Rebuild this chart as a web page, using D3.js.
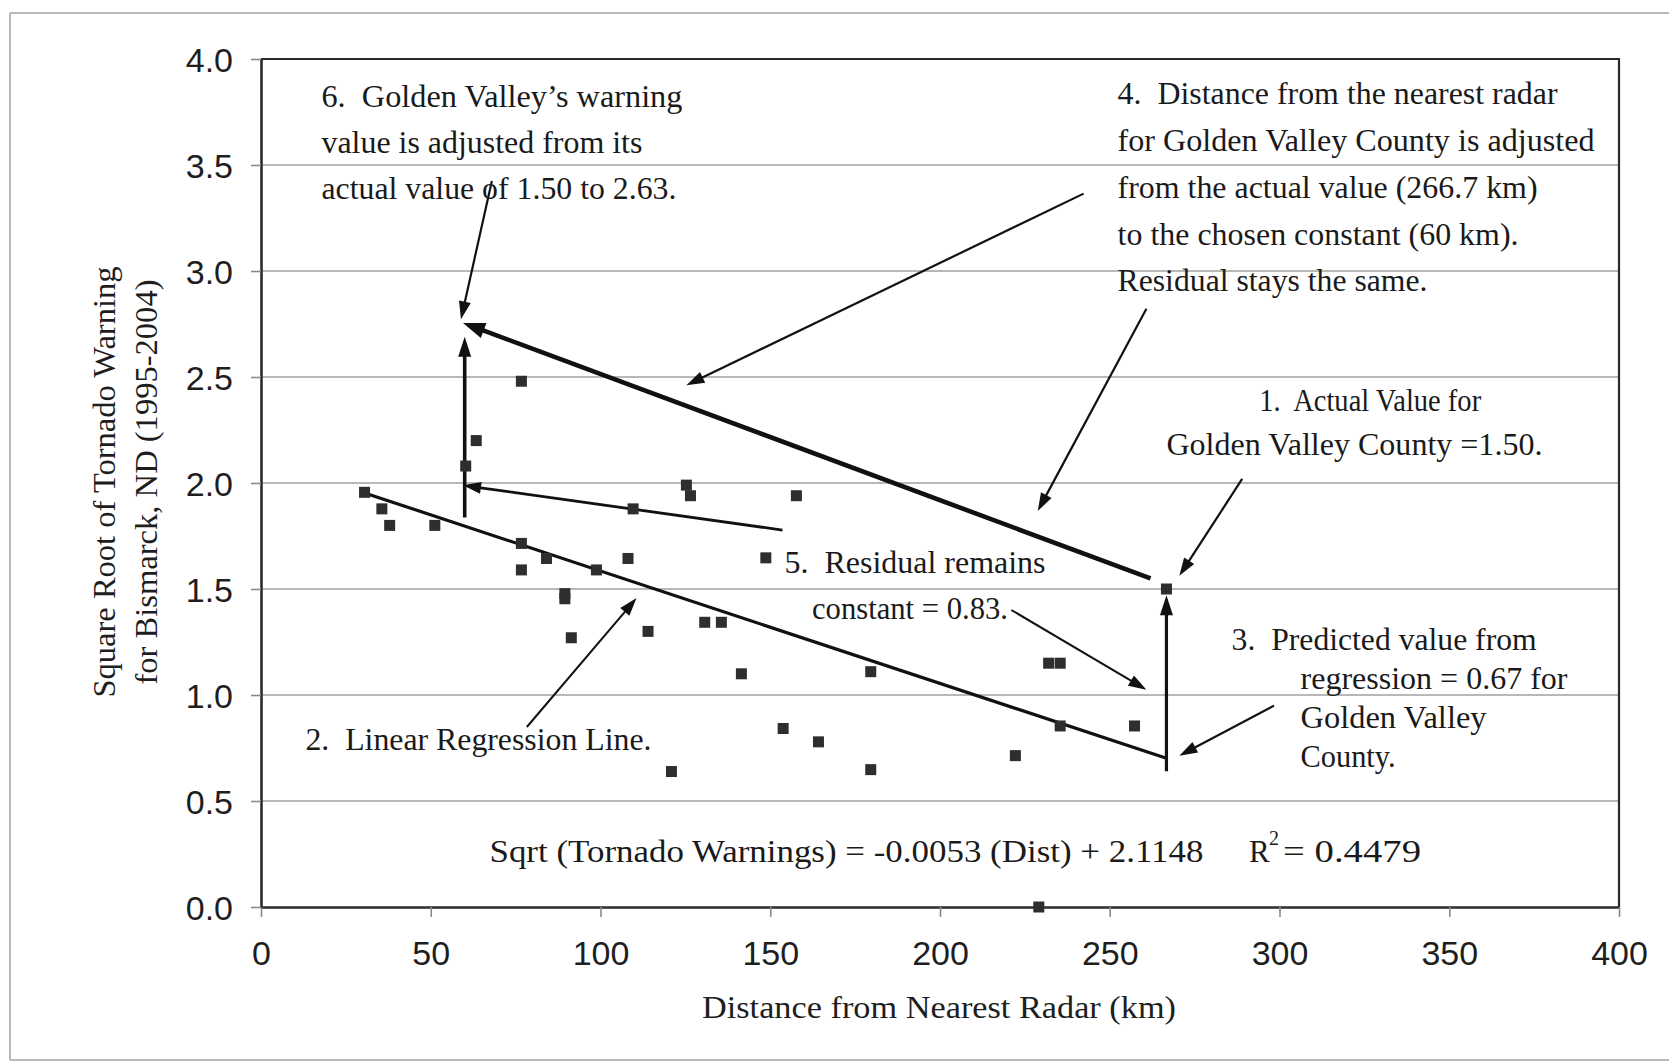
<!DOCTYPE html>
<html>
<head>
<meta charset="utf-8">
<script src="https://cdn.jsdelivr.net/npm/d3@7"></script>
<style>
  body { margin: 0; background: #fff; }
  svg { display: block; }
</style>
</head>
<body>
<svg id="chart" width="1669" height="1063"></svg>
<script>
// County observations: distance from nearest radar (km) and
// square root of tornado warnings issued by Bismarck, ND (1995-2004)
const distances = [30.5, 35.6, 37.9, 51.2, 60.3, 63.4, 76.7, 76.7, 76.7, 84.1,
                   89.5, 89.5, 91.4, 98.8, 108.1, 109.6, 114.0, 120.9, 125.3, 126.5,
                   130.7, 135.6, 141.5, 148.7, 153.8, 157.7, 164.2, 179.6, 179.6, 222.2,
                   229.1, 232.0, 235.4, 235.4, 257.3];
const sqrtWarnings = [1.956, 1.878, 1.80, 1.80, 2.08, 2.20, 2.48, 1.715, 1.59, 1.644,
                      1.478, 1.454, 1.27, 1.59, 1.644, 1.878, 1.30, 0.639, 1.99, 1.94,
                      1.343, 1.343, 1.10, 1.647, 0.842, 1.94, 0.779, 1.11, 0.648, 0.714,
                      0.0, 1.15, 1.15, 0.854, 0.854];

// Golden Valley County: actual and adjusted values
const goldenDist = 266.7;
const goldenValue = 1.50;
const adjustedDist = 60;
const adjustedValue = 2.63;
const predictedValue = 0.67;

// Fitted regression
const slope = -0.0053;
const intercept = 2.1148;
const rSquared = 0.4479;

// Axis ticks
const xTicks = [0, 50, 100, 150, 200, 250, 300, 350, 400];
const yTicks = [0.0, 0.5, 1.0, 1.5, 2.0, 2.5, 3.0, 3.5, 4.0];

const W = 1669, H = 1063;
const plot = { left: 261, right: 1619, top: 59, bottom: 907 };

const svg = d3.select("#chart");
svg.append("rect").attr("width", W).attr("height", H).attr("fill", "#fff");

// Outer frame around the figure
const frame = svg.append("g").attr("stroke", "#b8b8b8").attr("stroke-width", 2).attr("fill", "none");
frame.append("line").attr("x1", 10).attr("x2", W).attr("y1", 13).attr("y2", 13);
frame.append("line").attr("x1", 10).attr("x2", 10).attr("y1", 13).attr("y2", 1060);
frame.append("line").attr("x1", 10).attr("x2", W).attr("y1", 1060).attr("y2", 1060);

const x = d3.scaleLinear().domain([0, 400]).range([plot.left, plot.right]);
const y = d3.scaleLinear().domain([0, 4]).range([plot.bottom, plot.top]);

// Horizontal gridlines
svg.append("g")
  .selectAll("line").data(yTicks.filter(t => t > 0)).join("line")
  .attr("x1", plot.left).attr("x2", plot.right)
  .attr("y1", d => y(d)).attr("y2", d => y(d))
  .attr("stroke", "#a0a0a0").attr("stroke-width", 1.6);

// Plot border (top and right)
svg.append("path")
  .attr("d", `M${plot.left},${plot.top}H${plot.right}V${plot.bottom}`)
  .attr("fill", "none").attr("stroke", "#2b2b2b").attr("stroke-width", 2.2);

// Axes
const xAxis = d3.axisBottom(x).tickValues(xTicks).tickFormat(d3.format("d"))
  .tickSizeInner(10).tickSizeOuter(0).tickPadding(24);
const yAxis = d3.axisLeft(y).tickValues(yTicks).tickFormat(d3.format(".1f"))
  .tickSizeInner(10).tickSizeOuter(0).tickPadding(18);

const gx = svg.append("g").attr("transform", `translate(0,${plot.bottom})`).call(xAxis);
const gy = svg.append("g").attr("transform", `translate(${plot.left},0)`).call(yAxis);
[gx, gy].forEach(g => {
  g.select(".domain").attr("stroke", "#2b2b2b").attr("stroke-width", 2.6);
  g.selectAll(".tick line").attr("stroke", "#8a8a8a").attr("stroke-width", 1.6);
  g.selectAll(".tick text")
    .attr("font-family", "'Liberation Sans', Arial, sans-serif")
    .attr("font-size", 34).attr("fill", "#1e1e1e");
});
gy.selectAll(".tick text").attr("dy", "0.36em");

// Axis titles
const serif = "'Liberation Serif', 'Times New Roman', serif";
svg.append("text")
  .attr("x", 939).attr("y", 1007).attr("dominant-baseline", "central")
  .attr("text-anchor", "middle").attr("font-family", serif).attr("font-size", 31)
  .attr("fill", "#1e1e1e").attr("textLength", 474).attr("lengthAdjust", "spacingAndGlyphs")
  .text("Distance from Nearest Radar (km)");

const yTitle = svg.append("g").attr("transform", "translate(0,482) rotate(-90)");
[["Square Root of Tornado Warning", 104, 431], ["for Bismarck, ND (1995-2004)", 146, 405]]
  .forEach(([t, px, len]) => {
    yTitle.append("text")
      .attr("x", 0).attr("y", px).attr("dominant-baseline", "central")
      .attr("text-anchor", "middle").attr("font-family", serif).attr("font-size", 31)
      .attr("fill", "#1e1e1e").attr("textLength", len).attr("lengthAdjust", "spacingAndGlyphs")
      .text(t);
  });

// Regression line across the observed distance range
const lineStart = d3.min(distances);
svg.append("line")
  .attr("x1", x(lineStart)).attr("y1", y(intercept + slope * lineStart))
  .attr("x2", x(goldenDist)).attr("y2", y(intercept + slope * goldenDist))
  .attr("stroke", "#111").attr("stroke-width", 3.2);

// Arrow helper: line plus filled head, both in data units
const arrows = svg.append("g");
function arrow(from, to, width, headLen, headW) {
  const x1 = x(from[0]), y1 = y(from[1]), x2 = x(to[0]), y2 = y(to[1]);
  const ang = Math.atan2(y2 - y1, x2 - x1);
  const bx = x2 - headLen * Math.cos(ang), by = y2 - headLen * Math.sin(ang);
  arrows.append("line")
    .attr("x1", x1).attr("y1", y1).attr("x2", bx + Math.cos(ang) * 2).attr("y2", by + Math.sin(ang) * 2)
    .attr("stroke", "#111").attr("stroke-width", width);
  const nx = -Math.sin(ang), ny = Math.cos(ang);
  arrows.append("path")
    .attr("d", `M${x2},${y2}L${bx + nx * headW / 2},${by + ny * headW / 2}L${bx - nx * headW / 2},${by - ny * headW / 2}Z`)
    .attr("fill", "#111");
}

// Observed points
const pts = distances.map((d, i) => [d, sqrtWarnings[i]]);
pts.push([goldenDist, goldenValue]);
svg.append("g")
  .selectAll("rect").data(pts).join("rect")
  .attr("x", d => x(d[0]) - 5.5).attr("y", d => y(d[1]) - 5.5)
  .attr("width", 11).attr("height", 11)
  .attr("fill", "#2e2e2e");

// Residual moved up: predicted value to actual value
arrow([goldenDist, predictedValue - 0.03], [goldenDist, goldenValue - 0.03], 3.2, 20, 13);
// Adjusted residual at the chosen constant distance
arrow([adjustedDist, intercept + slope * adjustedDist + 0.04], [adjustedDist, adjustedValue + 0.06], 3.6, 20, 13);
// Point shifted from actual distance to the constant distance
arrow([262, 1.55], [59.5, 2.755], 4.6, 22, 16);

// Pointers from the notes
arrow([68.0, 3.424], [58.9, 2.772], 2.2, 18, 12);
arrow([242.3, 3.365], [125.3, 2.461], 2.2, 18, 12);
arrow([260.8, 2.822], [228.8, 1.868], 2.2, 18, 12);
arrow([289.0, 2.019], [270.5, 1.562], 2.2, 18, 12);
arrow([153.6, 1.778], [59.5, 1.989], 2.8, 18, 12);
arrow([221.0, 1.401], [260.8, 1.025], 2.0, 18, 12);
arrow([78.3, 0.849], [110.6, 1.457], 2.0, 18, 12);
arrow([298.4, 0.950], [270.5, 0.714], 2.2, 18, 12);

// Notes: [text, distance, value, rendered width]
const notes = [
  ["6.  Golden Valley\u2019s warning", 17.8, 3.821, 361],
  ["value is adjusted from its", 17.8, 3.604, 321],
  [`actual value of ${goldenValue.toFixed(2)} to ${adjustedValue.toFixed(2)}.`, 17.8, 3.390, 355],
  ["4.  Distance from the nearest radar", 252.3, 3.836, 440],
  ["for Golden Valley County is adjusted", 252.3, 3.616, 477],
  [`from the actual value (${goldenDist} km)`, 252.3, 3.395, 420],
  [`to the chosen constant (${adjustedDist} km).`, 252.3, 3.174, 401],
  ["Residual stays the same.", 252.3, 2.953, 310],
  ["1.  Actual Value for", 294.0, 2.391, 222],
  [`Golden Valley County =${goldenValue.toFixed(2)}.`, 266.7, 2.180, 376],
  ["5.  Residual remains", 154.2, 1.627, 261],
  ["constant = 0.83.", 162.3, 1.407, 196],
  ["3.  Predicted value from", 285.9, 1.261, 305],
  [`regression = ${predictedValue.toFixed(2)} for`, 306.2, 1.080, 267],
  ["Golden Valley", 306.2, 0.894, 186],
  ["County.", 306.2, 0.708, 95],
  ["2.  Linear Regression Line.", 13.1, 0.789, 346]
];
svg.append("g").selectAll("text").data(notes).join("text")
  .attr("x", d => x(d[1])).attr("y", d => y(d[2]))
  .attr("dominant-baseline", "central")
  .attr("font-family", serif).attr("font-size", 31).attr("fill", "#1a1a1a")
  .attr("textLength", d => d[3]).attr("lengthAdjust", "spacingAndGlyphs")
  .style("white-space", "pre")
  .text(d => d[0]);

// Regression equation and fit
const eq = svg.append("g").attr("font-family", serif).attr("fill", "#1a1a1a");
const eqY = y(0.264);
eq.append("text")
  .attr("x", x(67.3)).attr("y", eqY).attr("dominant-baseline", "central")
  .attr("font-size", 31)
  .attr("textLength", 714).attr("lengthAdjust", "spacingAndGlyphs")
  .text(`Sqrt (Tornado Warnings) = ${slope} (Dist) + ${intercept}`);
eq.append("text")
  .attr("x", 1249).attr("y", eqY).attr("dominant-baseline", "central")
  .attr("font-size", 31).text("R");
eq.append("text")
  .attr("x", 1269).attr("y", eqY - 13).attr("dominant-baseline", "central")
  .attr("font-size", 20).text("2");
eq.append("text")
  .attr("x", 1283).attr("y", eqY).attr("dominant-baseline", "central")
  .attr("font-size", 31)
  .attr("textLength", 138).attr("lengthAdjust", "spacingAndGlyphs")
  .text(`= ${rSquared}`);
</script>
</body>
</html>
